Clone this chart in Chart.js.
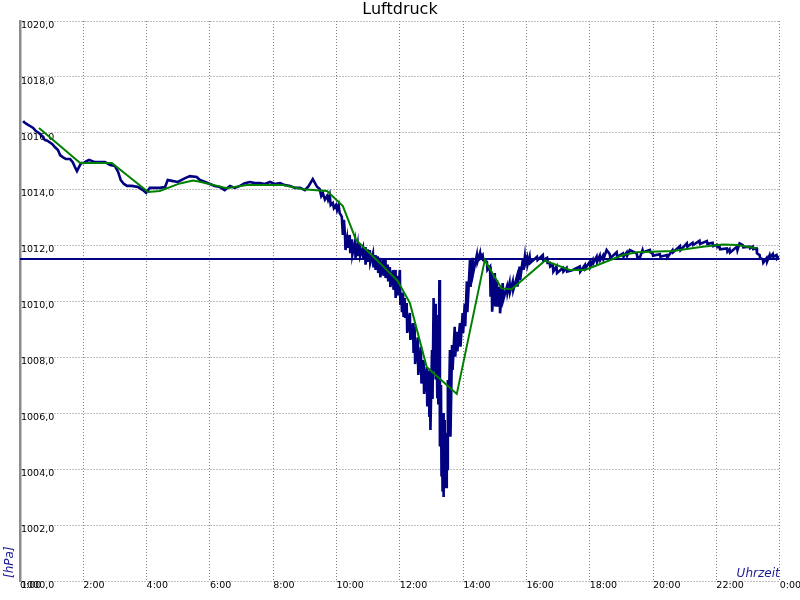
<!DOCTYPE html>
<html>
<head>
<meta charset="utf-8">
<script src="https://cdn.jsdelivr.net/npm/chart.js@4.4.1/dist/chart.umd.min.js"></script>
<style>
html,body{margin:0;padding:0;background:#fff;}
#wrap{width:800px;height:600px;}
</style>
</head>
<body>
<div id="wrap"><canvas id="c" width="800" height="600"></canvas></div>
<script>
// ---- texts ----
const chartTitle = 'Luftdruck';
const yAxisTitle = '[hPa]';
const xAxisTitle = 'Uhrzeit';

// ---- axis ranges / ticks ----
const yMin = 1000, yMax = 1020, yStep = 2;
const xMin = 0, xMax = 1440, xStep = 120;   // minutes of the day

// ---- measured pressure (minutes, hPa) ----
const blueMinutes = [
  6,8,13,19,25,30,36,42,47,53,61,66,72,76,81,87,95,100,104,108,112,116,121,127,131,142,152,161,171,180,
  186,191,197,203,212,224,233,239,246,256,265,275,280,288,299,313,322,335,341,351,360,369,379,388,398,407,417,426,436,445,
  455,464,474,483,493,502,512,521,531,540,547,555,563,568,571,574,578,582,584,587,589,593,595,599,601,604,606,610,612,614,
  616,617,620,621,625,626,629,630,635,636,640,641,644,645,650,651,654,655,659,660,663,664,669,670,673,674,678,679,682,683,
  688,689,692,693,697,698,701,702,707,708,711,712,716,717,720,721,723,724,726,727,729,730,733,734,739,740,745,746,748,749,
  754,755,760,761,765,766,771,772,775,776,777,778,781,782,784,785,787,788,790,791,792,793,795,796,798,799,800,801,802,803,
  804,805,807,808,809,810,811,812,815,816,819,820,824,825,828,829,834,835,839,840,843,844,847,848,853,854,858,859,866,867,
  872,873,877,878,885,886,891,892,894,895,900,901,904,905,909,910,915,916,923,924,928,929,934,935,942,943,947,948,953,954,
  957,958,961,962,966,967,980,981,991,992,999,1000,1004,1005,1010,1011,1017,1018,1029,1030,1036,1037,1048,1061,1062,1071,1072,1080,
  1081,1086,1087,1093,1094,1099,1100,1105,1106,1112,1118,1119,1131,1132,1143,1144,1150,1151,1156,1169,1170,1175,1180,1181,1194,1195,1199,1200,
  1213,1214,1226,1227,1237,1238,1251,1252,1264,1265,1275,1276,1288,1289,1302,1303,1313,1314,1321,1322,1326,1327,1340,1341,1345,1346,
  1359,1360,1364,1370,1371,1383,1384,1389,1390,1396,1397,1402,1403,1408,1409,1415,1416,1421,1422,1427,1428,1434,1435,1438
];
const blueHpa = [
  1016.43,1016.38,1016.32,1016.25,1016.18,1016.07,1016.00,1015.89,1015.75,1015.71,1015.61,1015.50,1015.39,1015.21,1015.14,1015.07,1015.07,1014.96,1014.79,1014.64,1014.79,1014.93,1014.93,1015.00,1015.04,1014.96,1014.96,1014.96,1014.86,1014.82,
  1014.61,1014.32,1014.18,1014.11,1014.11,1014.07,1013.96,1013.86,1014.04,1014.04,1014.04,1014.07,1014.32,1014.29,1014.25,1014.39,1014.46,1014.43,1014.32,1014.25,1014.18,1014.11,1014.07,1013.96,1014.11,1014.04,1014.11,1014.21,1014.25,1014.21,
  1014.21,1014.18,1014.25,1014.18,1014.21,1014.14,1014.11,1014.04,1014.04,1013.96,1014.10,1014.35,1014.08,1014.00,1013.75,1013.86,1013.62,1013.75,1013.61,1013.79,1013.43,1013.50,1013.32,1013.43,1013.25,1013.43,1013.14,1013.01,1012.36,1012.90,
  1012.36,1011.82,1012.20,1011.90,1012.36,1011.71,1012.20,1011.65,1012.11,1011.54,1012.00,1011.60,1012.07,1011.61,1011.90,1011.50,1011.93,1011.30,1011.85,1011.40,1011.82,1011.36,1011.70,1011.20,1011.64,1011.11,1011.60,1011.00,1011.54,1010.85,
  1011.50,1010.90,1011.46,1010.82,1011.30,1010.70,1011.21,1010.50,1011.10,1010.40,1011.11,1010.11,1010.90,1010.20,1011.11,1009.86,1010.30,1009.60,1010.29,1009.43,1010.11,1009.39,1009.93,1008.86,1009.57,1008.61,1009.21,1008.14,1009.07,1007.75,
  1008.70,1007.36,1008.36,1007.05,1007.89,1006.68,1007.64,1006.23,1007.50,1005.90,1007.54,1005.39,1008.25,1006.50,1010.11,1007.50,1009.90,1007.20,1008.00,1006.57,1009.50,1006.30,1010.75,1004.80,1007.00,1003.73,1005.50,1003.20,1006.00,1003.00,
  1005.75,1003.36,1005.29,1003.36,1005.20,1004.00,1007.18,1005.29,1008.25,1005.15,1008.43,1007.54,1009.08,1008.01,1008.90,1008.20,1009.21,1008.37,1009.57,1008.86,1009.90,1009.10,1010.70,1009.60,1011.46,1010.50,1011.54,1011.00,1011.64,1011.40,
  1011.72,1011.54,1011.64,1011.46,1011.40,1011.11,1011.23,1010.15,1011.00,1009.62,1011.00,1009.80,1010.75,1009.80,1010.51,1009.56,1010.64,1010.04,1010.51,1010.29,1010.64,1010.33,1010.69,1010.39,1010.87,1010.51,1011.23,1010.75,1011.46,1011.11,
  1011.58,1011.35,1011.54,1011.29,1011.58,1011.36,1011.58,1011.46,1011.64,1011.46,1011.54,1011.36,1011.36,1011.23,1011.29,1011.05,1011.23,1011.00,1011.18,1011.05,1011.18,1011.05,1011.11,1011.23,1011.05,1011.29,1011.18,1011.40,
  1011.23,1011.46,1011.36,1011.58,1011.40,1011.62,1011.46,1011.62,1011.50,1011.82,1011.67,1011.53,1011.74,1011.58,1011.70,1011.58,1011.74,1011.62,1011.82,1011.70,1011.58,1011.55,1011.82,1011.74,1011.82,1011.74,1011.70,1011.62,
  1011.67,1011.58,1011.64,1011.55,1011.82,1011.74,1011.96,1011.82,1012.06,1011.94,1012.08,1012.00,1012.15,1012.04,1012.14,1012.04,1012.08,1011.96,1012.00,1011.92,1011.94,1011.85,1011.88,1011.76,1011.85,1011.73,
  1011.94,1011.82,1012.06,1012.00,1011.92,1011.94,1011.88,1011.94,1011.85,1011.88,1011.70,1011.64,1011.53,1011.49,1011.37,1011.53,1011.40,1011.64,1011.56,1011.68,1011.58,1011.64,1011.53,1011.61
];

// ---- smoothed curve (minutes, hPa) ----
const greenMinutes = [36,114,174,243,265,303,328,341,392,430,498,536,582,612,637,682,716,739,771,828,881,913,932,995,1042,1071,1143,1169,1237,1294,1332,1359,1396];
const greenHpa = [1016.18,1014.93,1014.93,1013.89,1013.93,1014.20,1014.30,1014.26,1014.03,1014.14,1014.14,1013.99,1013.93,1013.39,1012.18,1011.36,1010.71,1009.93,1007.64,1006.68,1011.46,1010.45,1010.42,1011.44,1011.11,1011.11,1011.64,1011.74,1011.79,1011.94,1012.02,1012.00,1011.88];

// ---- mean level ----
const meanMinutes = [0, 1440];
const meanHpa = [1011.5, 1011.5];

const toPts = (xs, ys) => xs.map((x, i) => ({x: x, y: ys[i]}));

const FONT = '"DejaVu Sans", Verdana, sans-serif';

const textPlugin = {
  id: 'extraTexts',
  afterDraw(chart) {
    const ctx = chart.ctx;
    const a = chart.chartArea;
    ctx.save();
    ctx.fillStyle = '#000';
    ctx.font = '16px ' + FONT;
    ctx.textAlign = 'center';
    ctx.textBaseline = 'alphabetic';
    ctx.fillText(chartTitle, chart.width / 2, 14);

    ctx.fillStyle = '#1a1a99';
    ctx.font = 'italic 12px ' + FONT;
    ctx.textAlign = 'right';
    ctx.fillText(xAxisTitle, a.right, a.bottom - 4);

    ctx.translate(13, a.bottom - 3);
    ctx.rotate(-Math.PI / 2);
    ctx.textAlign = 'left';
    ctx.fillText(yAxisTitle, 0, 0);
    ctx.restore();
  }
};

new Chart(document.getElementById('c'), {
  type: 'line',
  data: {
    datasets: [
      { label: 'Mittel', data: toPts(greenMinutes, greenHpa), borderColor: '#008000', borderWidth: 2, pointRadius: 0, tension: 0, fill: false },
      { label: 'Durchschnitt', data: toPts(meanMinutes, meanHpa), borderColor: '#000080', borderWidth: 2, pointRadius: 0, tension: 0, fill: false },
      { label: 'Luftdruck', data: toPts(blueMinutes, blueHpa), borderColor: '#000080', borderWidth: 2.6, pointRadius: 0, tension: 0, fill: false }
    ]
  },
  options: {
    responsive: false,
    animation: false,
    devicePixelRatio: 1,
    layout: { padding: { top: 21, right: 20, left: 0, bottom: 0 } },
    plugins: { legend: { display: false }, title: { display: false }, tooltip: { enabled: false } },
    scales: {
      x: {
        type: 'linear',
        min: xMin, max: xMax,
        afterFit: s => { s.height = 19; },
        afterBuildTicks: s => { const t = []; for (let v = xMin; v <= xMax; v += xStep) t.push({value: v}); s.ticks = t; },
        ticks: {
          stepSize: xStep, autoSkip: false, maxRotation: 0, align: 'start', padding: -1,
          color: '#000', font: { family: FONT, size: 9.5 },
          callback: v => (Math.round(v / 60) % 24) + ':00'
        },
        grid: { color: '#808080', lineWidth: 1, drawTicks: false },
        border: { display: true, width: 1, color: 'rgba(0,0,0,0)', dash: [1, 2] }
      },
      y: {
        type: 'linear',
        min: yMin, max: yMax,
        afterFit: s => { s.width = 20; },
        afterBuildTicks: s => { const t = []; for (let v = yMin; v <= yMax; v += yStep) t.push({value: v}); s.ticks = t; },
        ticks: {
          stepSize: yStep, mirror: true, padding: 1, labelOffset: 5, autoSkip: false,
          color: '#000', font: { family: FONT, size: 9.5 },
          callback: v => v.toFixed(1).replace('.', ',')
        },
        grid: { color: '#808080', lineWidth: 1, drawTicks: false },
        border: { display: true, width: 2.5, color: '#8c8c8c', dash: [1, 2] }
      }
    }
  },
  plugins: [textPlugin]
});
</script>
</body>
</html>
